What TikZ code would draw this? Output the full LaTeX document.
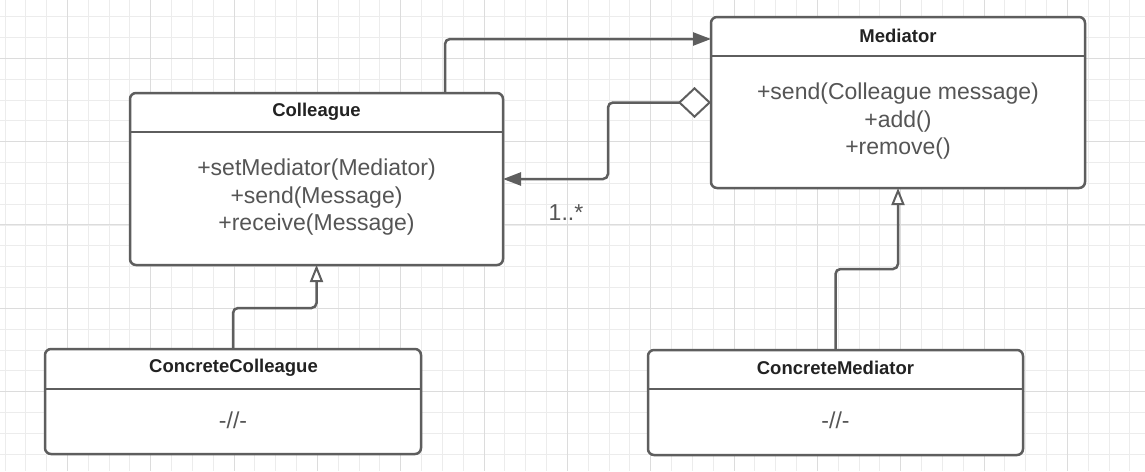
\documentclass[tikz,border=0pt]{standalone}
\usepackage{fontspec}
\setmainfont{Liberation Sans}
\usetikzlibrary{arrows.meta,calc}
\definecolor{ln}{HTML}{5E5E5E}
\definecolor{gridminor}{HTML}{ECECEC}
\definecolor{gridmajor}{HTML}{DCDCDC}
\definecolor{titlecol}{HTML}{222222}
\definecolor{bodycol}{HTML}{555555}
\begin{document}
\begin{tikzpicture}[x=1pt,y=-1pt,
  umlbox/.style={draw=ln, line width=2.5pt, fill=white, rounded corners=6pt, inner sep=0pt, outer sep=0pt},
  titletext/.style={font=\bfseries\fontsize{18.5}{22}\selectfont, text=titlecol, inner sep=0pt},
  bodytext/.style={font=\fontsize{23}{27.5}\selectfont, text=bodycol, align=center, inner sep=0pt},
  sepline/.style={draw=ln, line width=2.5pt},
  conn/.style={draw=ln, line width=2.5pt, rounded corners=5pt},
  filledhead/.style={-{Triangle[length=18pt,width=13pt]}},
  openhead/.style={-{Triangle[open,length=17pt,width=13pt,fill=white,line width=2pt]}},
]
\useasboundingbox (0,0) rectangle (1145,471);
\fill[white] (0,0) rectangle (1145,471);
% grid
\foreach \k in {0,...,54} {\draw[gridminor, line width=1pt] ({5.0+20.833*\k},0) -- ({5.0+20.833*\k},471);}
\foreach \k in {0,...,21} {\draw[gridminor, line width=1pt] (0,{16.7+20.833*\k}) -- (1145,{16.7+20.833*\k});}
\foreach \k in {0,...,12} {\draw[gridmajor, line width=1pt] ({67.5+83.333*\k},0) -- ({67.5+83.333*\k},471);}
\foreach \k in {0,...,4} {\draw[gridmajor, line width=1pt] (0,{58.3+83.333*\k}) -- (1145,{58.3+83.333*\k});}

% boxes
\node[umlbox, minimum width=373pt, minimum height=172pt] (col) at (316.5,179) {};
\node[umlbox, minimum width=374pt, minimum height=171pt] (med) at (898,102.5) {};
\node[umlbox, minimum width=376pt, minimum height=105pt] (cc) at (233,401.5) {};
\node[umlbox, minimum width=375pt, minimum height=105pt] (cm) at (835.5,402.5) {};

\draw[sepline] (col.west |- 0,132) -- (col.east |- 0,132);
\draw[sepline] (med.west |- 0,56) -- (med.east |- 0,56);
\draw[sepline] (cc.west |- 0,389) -- (cc.east |- 0,389);
\draw[sepline] (cm.west |- 0,389) -- (cm.east |- 0,389);

% texts
\node[titletext] (colt) at (316.5,111.5) {Colleague};
\node[titletext] (medt) at (898,35.5) {Mediator};
\node[titletext] (cct) at (233.5,367.5) {ConcreteColleague};
\node[titletext] (cmt) at (835.5,368) {ConcreteMediator};

\node[bodytext] (colb) at (316.5,197.5) {+setMediator(Mediator)\\+send(Message)\\+receive(Message)};
\node[bodytext] (medb) at (898,121.5) {+send(Colleague message)\\+add()\\+remove()};
\node[bodytext] (ccb) at (233,420) {-//-};
\node[bodytext] (cmb) at (835.5,420) {-//-};

% connectors
\draw[conn, filledhead] (col.north -| 445,0) |- (med.west |- 0,39);
\draw[conn, {Diamond[open,length=33pt,width=31pt,fill=white,line width=2pt]}-{Triangle[length=18pt,width=13pt]}] (med.west) -| (608,140) |- (col.east);
\node[bodytext] (mult) at (566,213) {1..*};
\draw[conn, openhead] (cc.north) |- (275,308) -| (col.south);
\draw[conn, openhead] (cm.north) |- (870,269) -| (med.south);
\end{tikzpicture}
\end{document}
